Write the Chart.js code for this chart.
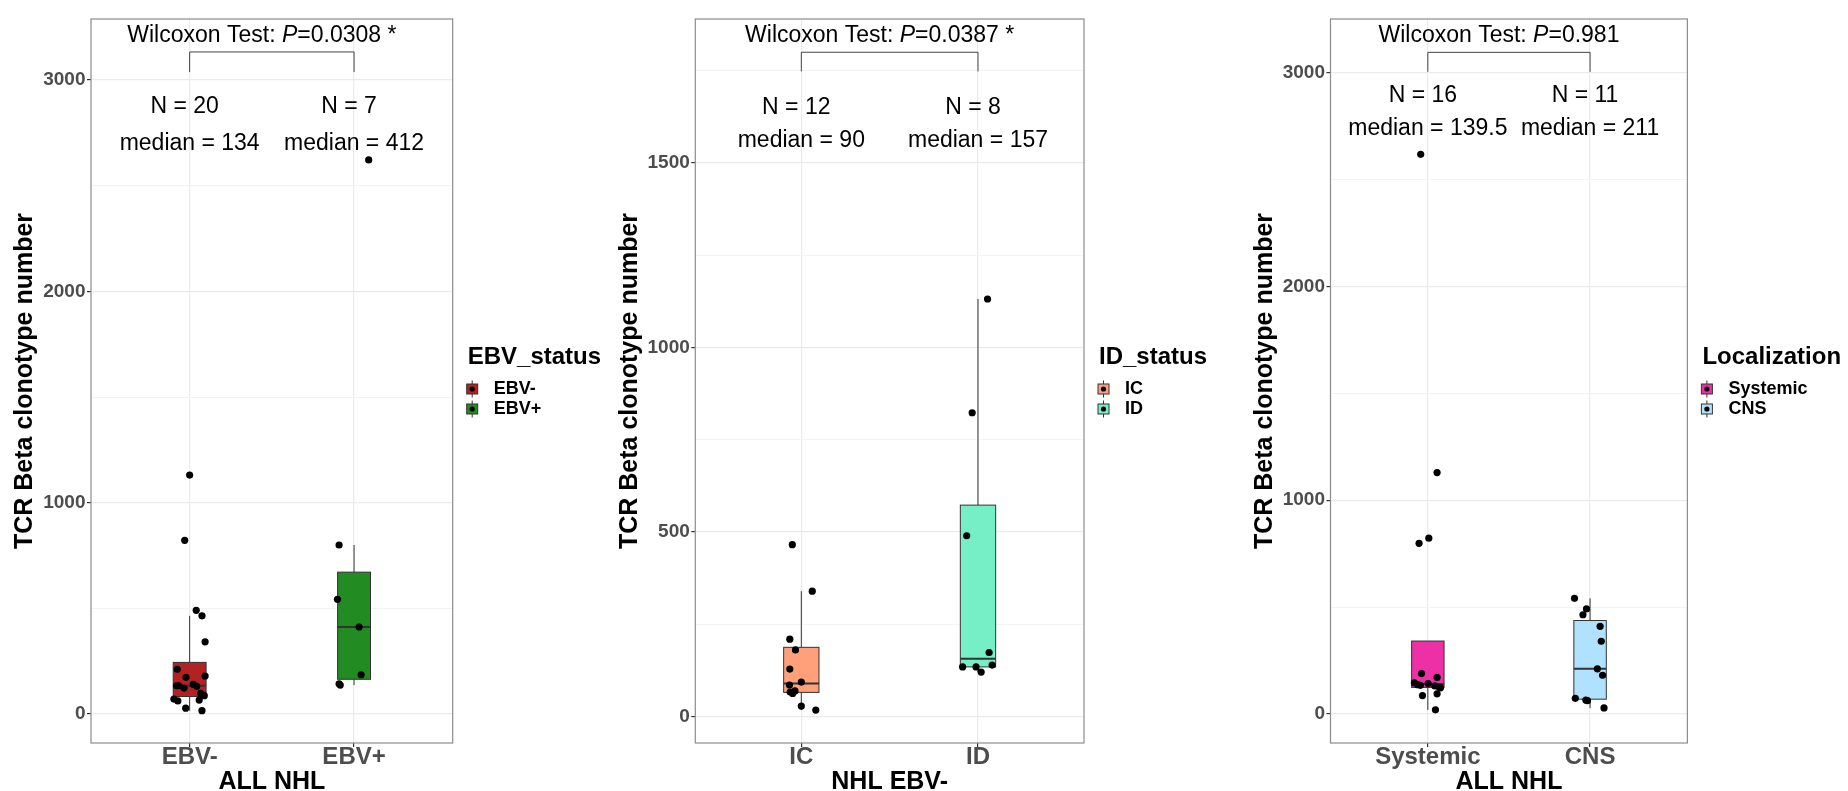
<!DOCTYPE html>
<html lang="en">
<head>
<meta charset="UTF-8">
<title>TCR Beta clonotype number</title>
<script src="https://cdn.jsdelivr.net/npm/chart.js@4.4.1/dist/chart.umd.min.js"></script>
<style>
  html, body { margin: 0; padding: 0; background: #fff; overflow: hidden; }
  .panel { position: absolute; top: 0; }
</style>
</head>
<body>
<canvas id="ebvChart" class="panel" width="600" height="800" style="left:0px"></canvas>
<canvas id="idChart" class="panel" width="620" height="800" style="left:600px"></canvas>
<canvas id="locChart" class="panel" width="628" height="800" style="left:1220px"></canvas>

<script>
// ---- EBV status, all NHL ----
const ebvCategories = ['EBV-', 'EBV+'];
const ebvNegValues = [1131, 822, 491, 465, 342, 212, 174, 180, 134, 134, 123, 141, 131, 98, 87, 71, 62, 66, 28, 16];
const ebvNegJitter = [0.00, -0.03, 0.04, 0.075, 0.094, -0.075, -0.022, 0.094, -0.080, -0.066, -0.034, 0.022, 0.043, 0.067, 0.089, -0.096, -0.072, 0.058, -0.024, 0.075];
const ebvPosValues = [800, 543, 412, 186, 143, 137, 2622];
const ebvPosJitter = [-0.091, -0.101, 0.031, 0.043, -0.091, -0.084, 0.089];
const ebvMedians = [134, 412];
const ebvQ1 = [83, 164.5];
const ebvQ3 = [244.5, 671.5];
const ebvWhiskerLow = [16, 137];
const ebvWhiskerHigh = [465, 800];
const ebvYTicks = [0, 1000, 2000, 3000];
const ebvPValue = '0.0308 *';

// ---- immune status, NHL EBV- ----
const idCategories = ['IC', 'ID'];
const icValues = [466, 340, 210, 181, 129, 94, 86, 70, 63, 67, 29, 18];
const icJitter = [-0.051, 0.062, -0.065, -0.033, -0.065, 0.0, -0.067, -0.036, -0.049, -0.063, 0.0, 0.082];
const idValues = [1131, 823, 490, 174, 135, 135, 140, 121];
const idJitter = [0.054, -0.033, -0.064, 0.063, -0.087, -0.011, 0.08, 0.018];
const idMedians = [90, 157];
const idQ1 = [66, 135];
const idQ3 = [188, 573];
const idWhiskerLow = [18, 121];
const idWhiskerHigh = [340, 1131];
const idYTicks = [0, 500, 1000, 1500];
const idPValue = '0.0387 *';

// ---- localization, all NHL ----
const locCategories = ['Systemic', 'CNS'];
const systemicValues = [2618, 1129, 822, 798, 189, 171, 145, 137, 134, 142, 131, 122, 125, 86, 94, 19];
const systemicJitter = [-0.044, 0.057, 0.006, -0.054, -0.039, 0.057, -0.083, -0.062, -0.046, 0.002, 0.043, 0.078, 0.070, -0.033, 0.057, 0.047];
const cnsValues = [541, 491, 464, 410, 340, 211, 181, 73, 65, 62, 28];
const cnsJitter = [-0.096, -0.022, -0.044, 0.062, 0.069, 0.045, 0.077, -0.091, -0.026, -0.016, 0.086];
const locMedians = [139.5, 211];
const locQ1 = [124, 69];
const locQ3 = [341, 437];
const locWhiskerLow = [19, 28];
const locWhiskerHigh = [341, 541];
const locYTicks = [0, 1000, 2000, 3000];
const locPValue = '0.981';

const FONT = "'Liberation Sans', Arial, Helvetica, sans-serif";
const TICK_GREY = '#4D4D4D';
const LINE_GREY = '#333333';
const BOX_HALF = 0.1;

// major ticks plus the minor lines halfway between them
function gridValues(major, min, max) {
  const step = major[1] - major[0];
  const minor = [major[0] - step / 2].concat(major.map(v => v + step / 2));
  return major.concat(minor).filter(v => v >= min && v <= max).sort((a, b) => a - b);
}

function line(ctx, x0, y0, x1, y1) {
  ctx.beginPath();
  ctx.moveTo(x0, y0);
  ctx.lineTo(x1, y1);
  ctx.stroke();
}

// boxes, bracket, N/median labels, panel border and legend
function decor(p) {
  return {
    id: 'decor',
    beforeDatasetsDraw(chart) {
      const { ctx, scales: { x, y } } = chart;
      ctx.save();
      ctx.strokeStyle = LINE_GREY;
      p.categories.forEach((c, i) => {
        const xc = x.getPixelForValue(i);
        const x0 = x.getPixelForValue(i - BOX_HALF);
        const x1 = x.getPixelForValue(i + BOX_HALF);
        const y1 = y.getPixelForValue(p.q1[i]);
        const y3 = y.getPixelForValue(p.q3[i]);
        ctx.lineWidth = 1;
        line(ctx, xc, y.getPixelForValue(p.whiskerHigh[i]), xc, y3);
        line(ctx, xc, y1, xc, y.getPixelForValue(p.whiskerLow[i]));
        ctx.fillStyle = p.colors[i];
        ctx.fillRect(x0, y3, x1 - x0, y1 - y3);
        ctx.strokeRect(x0, y3, x1 - x0, y1 - y3);
        ctx.lineWidth = 2;
        const ym = y.getPixelForValue(p.medians[i]);
        line(ctx, x0, ym, x1, ym);
      });
      ctx.restore();
    },
    afterDatasetsDraw(chart) {
      const { ctx, chartArea: a, scales: { x, y } } = chart;
      ctx.save();

      // panel border
      ctx.strokeStyle = '#8c8c8c';
      ctx.lineWidth = 1.2;
      ctx.strokeRect(a.left, a.top, a.right - a.left, a.bottom - a.top);

      // comparison bracket
      const bx0 = x.getPixelForValue(0), bx1 = x.getPixelForValue(1);
      const by = y.getPixelForValue(p.bracketY), byLeg = y.getPixelForValue(p.bracketLegY);
      ctx.strokeStyle = '#444';
      ctx.lineWidth = 1;
      ctx.beginPath();
      ctx.moveTo(bx0, byLeg); ctx.lineTo(bx0, by); ctx.lineTo(bx1, by); ctx.lineTo(bx1, byLeg);
      ctx.stroke();

      // test label with italic P
      ctx.fillStyle = '#000';
      ctx.textBaseline = 'middle';
      ctx.textAlign = 'left';
      const parts = ['Wilcoxon Test: ', 'P', '=' + p.pValue];
      const fonts = [`23px ${FONT}`, `italic 23px ${FONT}`, `23px ${FONT}`];
      const widths = parts.map((t, k) => { ctx.font = fonts[k]; return ctx.measureText(t).width; });
      let tx = (bx0 + bx1) / 2 - 10 - widths.reduce((s, w) => s + w, 0) / 2;
      const ty = y.getPixelForValue(p.testLabelY);
      parts.forEach((t, k) => { ctx.font = fonts[k]; ctx.fillText(t, tx, ty); tx += widths[k]; });

      // N and median per group
      ctx.font = `23px ${FONT}`;
      ctx.textAlign = 'center';
      p.categories.forEach((c, i) => {
        const xc = x.getPixelForValue(i);
        ctx.fillText('N = ' + p.values[i].length, xc - 5, y.getPixelForValue(p.countLabelY));
        ctx.fillText('median = ' + p.medians[i], xc, y.getPixelForValue(p.medianLabelY));
      });

      // legend
      const lx = a.right;
      const mid = (a.top + a.bottom) / 2;
      ctx.textAlign = 'left';
      ctx.font = `bold 24px ${FONT}`;
      ctx.fillText(p.legendTitle, lx + 15, mid - 23.5);
      ctx.font = `bold 18px ${FONT}`;
      p.categories.forEach((c, i) => {
        const ky = mid + 8 + i * 20;
        const kx = lx + 19.5;
        ctx.strokeStyle = LINE_GREY;
        ctx.lineWidth = 1;
        line(ctx, kx, ky - 8.5, kx, ky + 8.5);
        ctx.fillStyle = p.colors[i];
        ctx.fillRect(kx - 5.5, ky - 5, 11, 10);
        ctx.strokeRect(kx - 5.5, ky - 5, 11, 10);
        ctx.fillStyle = '#000';
        ctx.beginPath();
        ctx.arc(kx, ky, 2.6, 0, Math.PI * 2);
        ctx.fill();
        ctx.fillText(c, lx + 41, ky);
      });
      ctx.restore();
    }
  };
}

function makeChart(id, p) {
  const datasets = p.categories.map((c, i) => ({
    label: c,
    data: p.values[i].map((v, k) => ({ x: i + p.jitter[i][k], y: v })),
    backgroundColor: '#000',
    borderWidth: 0,
    pointRadius: 3.6,
    pointHoverRadius: 3.6
  }));
  const yGrid = gridValues(p.yTicks, p.yMin, p.yMax);
  const isMajor = v => p.yTicks.includes(v);

  return new Chart(document.getElementById(id), {
    type: 'scatter',
    data: { datasets },
    options: {
      responsive: false,
      animation: false,
      devicePixelRatio: 1,
      events: [],
      layout: { padding: { left: 0, top: 19, right: p.padRight, bottom: 0 } },
      plugins: { legend: { display: false }, tooltip: { enabled: false } },
      scales: {
        x: {
          type: 'linear',
          min: -0.6,
          max: 1.6,
          afterBuildTicks: s => { s.ticks = p.categories.map((c, i) => ({ value: i })); },
          afterFit: s => { s.height = 57; },
          ticks: {
            callback: v => p.categories[v],
            color: TICK_GREY,
            font: { family: FONT, size: 24, weight: 'bold', lineHeight: 1 },
            padding: -2,
            autoSkip: false,
            maxRotation: 0
          },
          grid: { color: '#EBEBEB', lineWidth: 1.2, tickLength: 4, tickColor: LINE_GREY },
          border: { display: false },
          title: {
            display: true,
            text: p.xTitle,
            color: '#000',
            font: { family: FONT, size: 25, weight: 'bold' },
            padding: { top: 0, bottom: 3 }
          }
        },
        y: {
          min: p.yMin,
          max: p.yMax,
          afterBuildTicks: s => { s.ticks = yGrid.map(v => ({ value: v })); },
          afterFit: s => { s.width = p.axisWidth; },
          ticks: {
            callback: v => isMajor(v) ? String(v) : '',
            color: TICK_GREY,
            font: { family: FONT, size: 19, weight: 'bold' },
            padding: 1.5,
            autoSkip: false
          },
          grid: {
            color: c => isMajor(c.tick.value) ? '#EBEBEB' : '#F3F3F3',
            lineWidth: c => isMajor(c.tick.value) ? 1.2 : 1,
            tickColor: c => isMajor(c.tick.value) ? LINE_GREY : 'rgba(0,0,0,0)',
            tickLength: 4
          },
          border: { display: false },
          title: {
            display: true,
            text: 'TCR Beta clonotype number',
            color: '#000',
            font: { family: FONT, size: 25, weight: 'bold' },
            padding: { top: p.titlePad, bottom: 0 }
          }
        }
      }
    },
    plugins: [decor(p)]
  });
}

makeChart('ebvChart', {
  categories: ebvCategories,
  values: [ebvNegValues, ebvPosValues],
  jitter: [ebvNegJitter, ebvPosJitter],
  medians: ebvMedians, q1: ebvQ1, q3: ebvQ3,
  whiskerLow: ebvWhiskerLow, whiskerHigh: ebvWhiskerHigh,
  yTicks: ebvYTicks, pValue: ebvPValue,
  colors: ['#B22222', '#228B22'],
  legendTitle: 'EBV_status', xTitle: 'ALL NHL',
  yMin: -137, yMax: 3289,
  bracketY: 3133, bracketLegY: 3038, testLabelY: 3210, countLabelY: 2873, medianLabelY: 2701,
  padRight: 147.3, axisWidth: 91, titlePad: 10.5
});

makeChart('idChart', {
  categories: idCategories,
  values: [icValues, idValues],
  jitter: [icJitter, idJitter],
  medians: idMedians, q1: idQ1, q3: idQ3,
  whiskerLow: idWhiskerLow, whiskerHigh: idWhiskerHigh,
  yTicks: idYTicks, pValue: idPValue,
  colors: ['#FFA07A', '#76EEC6'],
  legendTitle: 'ID_status', xTitle: 'NHL EBV-',
  yMin: -71, yMax: 1889,
  bracketY: 1799, bracketLegY: 1747, testLabelY: 1844, countLabelY: 1650, medianLabelY: 1559,
  padRight: 136, axisWidth: 95.3, titlePad: 14.7
});

makeChart('locChart', {
  categories: locCategories,
  values: [systemicValues, cnsValues],
  jitter: [systemicJitter, cnsJitter],
  medians: locMedians, q1: locQ1, q3: locQ3,
  whiskerLow: locWhiskerLow, whiskerHigh: locWhiskerHigh,
  yTicks: locYTicks, pValue: locPValue,
  colors: ['#EE30A7', '#B0E2FF'],
  legendTitle: 'Localization', xTitle: 'ALL NHL',
  yMin: -136, yMax: 3251,
  bracketY: 3095, bracketLegY: 3004, testLabelY: 3172, countLabelY: 2894, medianLabelY: 2738,
  padRight: 160.6, axisWidth: 110.5, titlePad: 30
});
</script>
</body>
</html>
